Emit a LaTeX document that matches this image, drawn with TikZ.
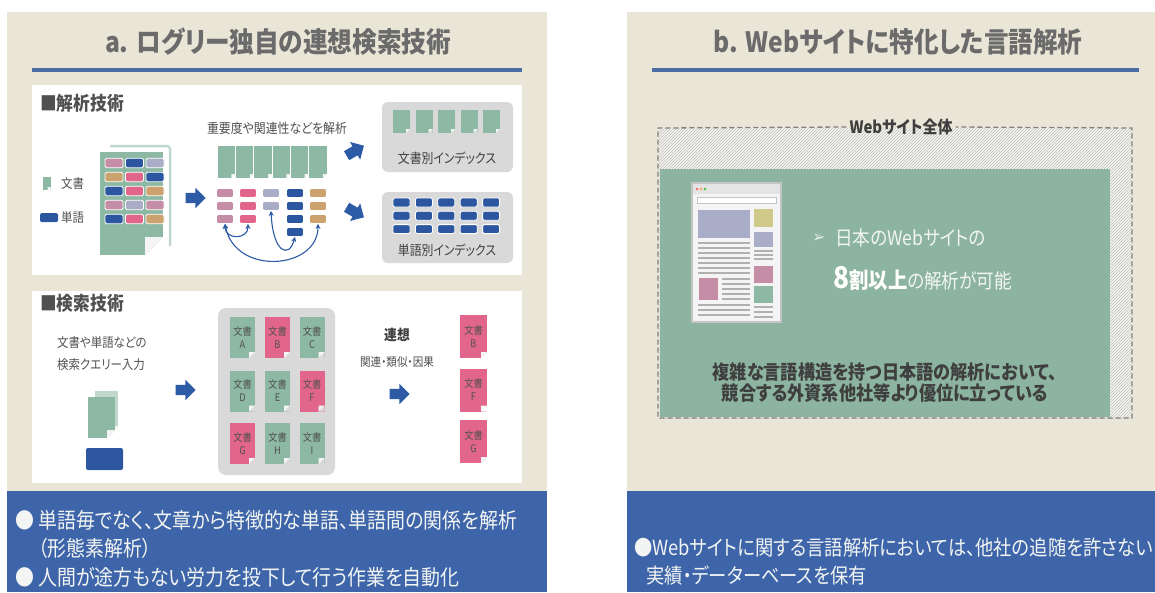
\documentclass[tikz,border=0pt]{standalone}
\usepackage{fontspec}
\setmainfont{Noto Sans CJK JP}[FakeStretch=0.88, RawFeature={+palt}]
\newfontfamily\dingfont{DejaVu Sans}
\usetikzlibrary{arrows.meta,shapes.arrows,patterns}

\definecolor{panelbg}{HTML}{EAE6D7}
\definecolor{titlegray}{HTML}{6B6B6B}
\definecolor{textgray}{HTML}{505050}
\definecolor{darktext}{HTML}{3F3F3F}
\definecolor{ruleblue}{HTML}{4A6DA4}
\definecolor{footblue}{HTML}{3E65A9}
\definecolor{docgreen}{HTML}{8DB8A3}
\definecolor{wpink}{HTML}{E2668B}
\definecolor{wmauve}{HTML}{C68DA7}
\definecolor{wgray}{HTML}{A9ADC7}
\definecolor{wtan}{HTML}{CCA26E}
\definecolor{wblue}{HTML}{2C57A0}
\definecolor{wyellow}{HTML}{CFCA8A}
\definecolor{arrowblue}{HTML}{2E5BA6}
\definecolor{panelgray}{HTML}{D9D9D9}
\definecolor{webgreen}{HTML}{8CB4A1}
\definecolor{flap}{HTML}{F4F4F4}
\definecolor{hatch}{HTML}{BDBDBD}
\definecolor{framegray}{HTML}{C4C4C4}
\definecolor{linegray}{HTML}{B0B0B0}
\definecolor{lighttext}{HTML}{F2F5F3}

\newcommand\fsz[2]{\fontsize{#1}{#2}\selectfont}

\tikzset{
  docbg/.store in=\docbg, docbg=white,
  docfold/.store in=\docfold, docfold=5pt,
  % document with a folded corner
  doc/.style={rectangle, inner sep=0pt, fill=docgreen,
    path picture={
      \fill[\docbg] ([xshift=-\docfold]path picture bounding box.south east)
        -- (path picture bounding box.south east)
        -- ([yshift=\docfold]path picture bounding box.south east) -- cycle;
      \fill[flap] ([xshift=-\docfold]path picture bounding box.south east)
        -- ([yshift=\docfold]path picture bounding box.south east)
        -- ([xshift=-\docfold,yshift=\docfold]path picture bounding box.south east) -- cycle;
    }},
  word/.style={rectangle, rounded corners=1.5pt, draw=white, line width=0.8pt,
    minimum width=18pt, minimum height=9.5pt, inner sep=0pt},
  fatarrow/.style={single arrow, fill=arrowblue, draw=none, inner xsep=0pt, inner ysep=5pt,
    minimum height=20pt, single arrow head extend=5pt},
  link/.style={<->, >={Stealth[length=5pt,width=5pt]}, draw=arrowblue, line width=1.1pt},
  idxbox/.style={fill=panelgray, rounded corners=6pt},
  heading/.style={anchor=west, inner sep=0pt, font=\fsz{19}{22}\bfseries, text=textgray},
  label/.style={inner sep=0pt, font=\fsz{13.5}{16}, text=darktext},
  small/.style={inner sep=0pt, font=\fsz{13}{15}, text=textgray},
  doclabel/.style={align=center, font=\fsz{10.5}{13}, text=textgray},
  foot/.style={anchor=base west, inner sep=0pt, font=\fsz{21.5}{24}, text=lighttext},
}

\begin{document}
\begin{tikzpicture}[x=1pt, y=-1pt]
\fill[white] (0,0) rectangle (1155,592);
\useasboundingbox (0,0) rectangle (1155,592);

% panels
\fill[panelbg] (7,12) rectangle (547,592);
\fill[panelbg] (627,12) rectangle (1155,592);
\fill[footblue] (7,491) rectangle (547,592);
\fill[footblue] (627,491) rectangle (1155,592);

% ---------- a ----------
\node[font=\fsz{28}{30}\bfseries, text=titlegray] (titleA) at (278,42) {a. ログリー独自の連想検索技術};
\draw[ruleblue, line width=4pt] (32,70) -- (522,70);
\fill[white] (32,85) rectangle (522,275);
\fill[white] (32,291) rectangle (522,483);

% analysis
\node[heading] (headA) at (40,103) {■解析技術};
\node[doc, minimum width=8pt, minimum height=13pt, docfold=3pt] (lgdoc) at (46.5,183.5) {};
\node[small, anchor=west] (lgdoctxt) at (61,183.5) {文書};
\node[word, fill=wblue, draw=none, minimum width=18pt, minimum height=9pt] (lgword) at (49,217.5) {};
\node[small, anchor=west] (lgwordtxt) at (61,217.5) {単語};

\draw[docgreen!55, line width=2.5pt, rounded corners=3pt] (110,146) -- (170,146) -- (170,246);
\node[doc, minimum width=63pt, minimum height=103pt, docfold=18pt] (bigdoc) at (131.5,203.5) {};
\foreach \row/\ca/\cb/\cc in {1/wmauve/wblue/wgray, 2/wtan/wpink/wblue, 3/wblue/wpink/wtan,
    4/wmauve/wgray/wmauve, 5/wblue/wpink/wtan} {
  \node[word, fill=\ca] (g\row a) at (114,149+14*\row) {};
  \node[word, fill=\cb] (g\row b) at (134.5,149+14*\row) {};
  \node[word, fill=\cc] (g\row c) at (155,149+14*\row) {};
}
\node[fatarrow] (ar1) at (193,198) {};

\node[small, font=\fsz{13.5}{15}] (weight) at (277,128) {重要度や関連性などを解析};
\foreach \i in {1,...,6}
  \node[doc, draw=white, line width=0.6pt, minimum width=18.3pt, minimum height=33pt, docfold=4pt] (s\i) at (208+18.3*\i,161.5) {};
\foreach \col/\x/\n/\c in {1/225/3/wmauve, 2/248/3/wpink, 3/271/2/wgray, 4/295/4/wblue, 5/318/3/wtan}
  \foreach \r in {1,...,\n}
    \node[word, fill=\c, minimum width=17pt, minimum height=9pt] (k\col\r) at (\x,180+13*\r) {};
\draw[link] (k13.south) .. controls +(0,16) and +(0,16) .. (k23.south);
\draw[link] (k32.south) .. controls +(2,42) and +(-6,22) .. (k44.south);
\draw[link] (k13.south) .. controls +(10,52) and +(0,46) .. (k53.south);

\node[fatarrow, rotate=30] (ar2) at (353,152) {};
\node[fatarrow, rotate=-30] (ar3) at (353,211) {};

\fill[idxbox] (382,102) rectangle (513,172);
\foreach \i in {0,...,4}
  \node[doc, minimum width=17pt, minimum height=23pt, docfold=4pt, docbg=panelgray] (x\i) at (401.5+22.5*\i,121.5) {};
\node[label] (docidx) at (447,158) {文書別インデックス};
\fill[idxbox] (382,192) rectangle (513,263);
\foreach \r in {0,1,2}
  \foreach \i in {0,...,4}
    \node[word, fill=wblue, minimum width=17pt, minimum height=9pt] (b\r\i) at (401.5+22.4*\i,202.5+13.3*\r) {};
\node[label] (wordidx) at (447,250) {単語別インデックス};

% search
\node[heading] (headB) at (40,303) {■検索技術};
\node[small, anchor=west, align=left, font=\fsz{13}{22}] (query) at (57,354) {文書や単語などの\\検索クエリー入力};
\node[doc, fill=docgreen!55, minimum width=23pt, minimum height=41pt, docfold=6pt] (qback) at (106.5,411.5) {};
\node[doc, minimum width=27pt, minimum height=41pt, docfold=8pt] (qdoc) at (101.5,417.5) {};
\node[fill=wblue, rounded corners=2pt, minimum width=37pt, minimum height=22pt] (qword) at (104.5,459) {};
\node[fatarrow] (ar4) at (183,390) {};

\fill[panelgray, rounded corners=8pt] (218,308) rectangle (335,475);
\foreach \lab/\c/\x/\y in {A/docgreen/242.5/337.5, B/wpink/277.5/337.5, C/docgreen/312/337.5,
    D/docgreen/242.5/391, E/docgreen/277.5/391, F/wpink/312/391,
    G/wpink/242.5/443.5, H/docgreen/277.5/443.5, I/docgreen/312/443.5}
  \node[doc, doclabel, fill=\c, minimum width=25pt, minimum height=41pt, docfold=6pt, docbg=panelgray] (d\lab) at (\x,\y) {文書\\\lab};

\node[inner sep=0pt, font=\fsz{14.5}{16}\bfseries, text=darktext] (assoc) at (397,335) {連想};
\node[inner sep=0pt, font=\fsz{12}{14}, text=textgray] (kinds) at (397,362) {関連・類似・因果};
\node[fatarrow] (ar5) at (397,394) {};
\foreach \lab/\y in {B/336.5, F/390, G/441.5}
  \node[doc, doclabel, fill=wpink, minimum width=27pt, minimum height=43pt, docfold=6pt] (r\lab) at (473.5,\y) {文書\\\lab};

% footer
\node[foot] (footA1) at (15,528.5) {● 単語毎でなく、文章から特徴的な単語、単語間の関係を解析};
\node[foot] (footA2) at (15,556.5) {\phantom{● }（形態素解析）};
\node[foot] (footA3) at (15,585.5) {● 人間が途方もない労力を投下して行う作業を自動化};

% ---------- b ----------
\node[font=\fsz{28}{30}\bfseries, text=titlegray] (titleB) at (898,42) {b. Webサイトに特化した言語解析};
\draw[ruleblue, line width=4pt] (652,70) -- (1139,70);

\fill[white!60!panelbg] (658,128) rectangle (1132,418);
\fill[pattern=north east lines, pattern color=hatch] (658,128) rectangle (1132,418);
\fill[webgreen] (660,169) rectangle (1110,417);
\node[inner sep=3pt, font=\fsz{17}{19}\bfseries, text=darktext] (whole) at (901,127) {Webサイト全体};
\draw[gray, line width=1.3pt, dash pattern=on 5pt off 3pt]
  (whole.west) -- (658,128) -- (658,418) -- (1132,418) -- (1132,128) -- (whole.east);

% browser page
\filldraw[fill=flap, draw=framegray, line width=1.5pt] (692,183) rectangle (781,322);
\fill[panelgray!70] (693,184) rectangle (780,194);
\fill[red!60] (697,189) circle[radius=1.3pt];
\fill[orange!70] (701,189) circle[radius=1.3pt];
\fill[green!50!gray] (705,189) circle[radius=1.3pt];
\filldraw[fill=white, draw=framegray, line width=0.5pt] (697,197) rectangle (776,203);
\fill[wgray] (698,210) rectangle (750,238);
\fill[wyellow] (754,209) rectangle (773,227);
\fill[wgray] (754,232) rectangle (773,247);
\fill[wmauve] (754,266) rectangle (773,283);
\fill[docgreen] (754,286) rectangle (773,303);
\fill[wmauve] (699,278) rectangle (718,300);
\begin{scope}[linegray, line width=1.2pt]
  \foreach \y in {243,248,...,273} \draw (698,\y) -- (750,\y);
  \foreach \y in {251,255,259} \draw (754,\y) -- (773,\y);
  \foreach \y in {279,284,...,299} \draw (722,\y) -- (750,\y);
  \foreach \y in {305,310,315} \draw (698,\y) -- (750,\y);
  \foreach \y in {307,312,317} \draw (754,\y) -- (773,\y);
\end{scope}

\node[anchor=west, inner sep=0pt, font=\dingfont\fsz{16}{18}, text=white!75!webgreen] (tip) at (812,238) {➢};
\node[anchor=west, inner sep=0pt, font=\fsz{20}{22}, text=lighttext] (jpweb) at (835,238) {日本のWebサイトの};
\node[anchor=west, inner sep=0pt, text=lighttext] (share) at (833,278)
  {{\fsz{30}{32}\bfseries\color{white}8}{\fsz{22}{24}\bfseries\color{white}割以上}{\fsz{20}{22}の解析が可能}};
\node[align=center, inner sep=0pt, font=\fsz{19.5}{21}\bfseries, text=darktext] (lead) at (885,383)
  {複雑な言語構造を持つ日本語の解析において、\\競合する外資系他社等より優位に立っている};

\node[foot, font=\fsz{20.8}{24}] (footB1) at (634,555) {●Webサイトに関する言語解析においては、他社の追随を許さない};
\node[foot, font=\fsz{20.8}{24}] (footB2) at (646,583) {実績・データーベースを保有};
\end{tikzpicture}
\end{document}
